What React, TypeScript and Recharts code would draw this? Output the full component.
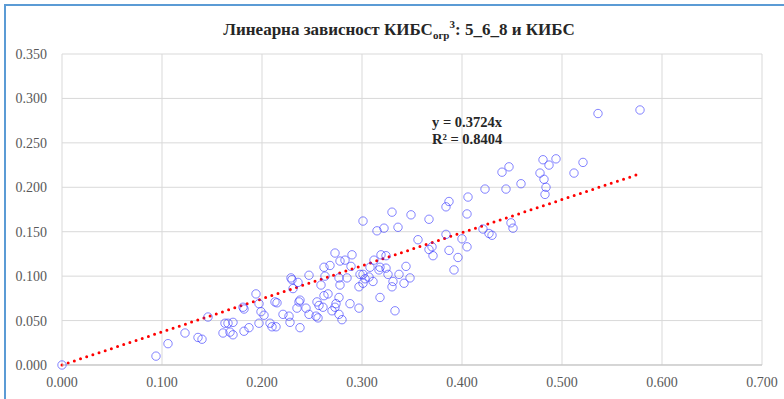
import React from "react";
import {
  ComposedChart,
  Scatter,
  XAxis,
  YAxis,
  CartesianGrid,
  ReferenceLine,
} from "recharts";

// КИБС огр 3 (x) против КИБС (y)
const xValues = [
  0.0, 0.094, 0.106, 0.123, 0.136, 0.14, 0.146, 0.161, 0.163, 0.166, 0.168,
  0.171, 0.171, 0.182, 0.187, 0.181, 0.182, 0.194, 0.197, 0.197, 0.199, 0.202,
  0.208, 0.213, 0.215, 0.214, 0.221, 0.227, 0.228, 0.235, 0.237, 0.238, 0.229,
  0.23, 0.231, 0.236, 0.244, 0.247, 0.254, 0.256, 0.257, 0.261, 0.262, 0.266,
  0.27, 0.273, 0.274, 0.277, 0.277, 0.28, 0.288, 0.297, 0.247, 0.259, 0.263,
  0.268, 0.262, 0.273, 0.278, 0.283, 0.289, 0.29, 0.278, 0.277, 0.285, 0.297,
  0.298, 0.301, 0.303, 0.307, 0.311, 0.308, 0.312, 0.318, 0.317, 0.319, 0.324,
  0.324, 0.326, 0.318, 0.33, 0.331, 0.333, 0.337, 0.342, 0.348, 0.344, 0.301,
  0.315, 0.322, 0.33, 0.336, 0.349, 0.367, 0.356, 0.367, 0.37, 0.371, 0.384,
  0.384, 0.387, 0.387, 0.396, 0.392, 0.4, 0.405, 0.405, 0.406, 0.421, 0.427,
  0.43, 0.423, 0.44, 0.447, 0.444, 0.449, 0.451, 0.459, 0.478, 0.481, 0.482,
  0.484, 0.483, 0.487, 0.494, 0.512, 0.521, 0.536, 0.578, 0.301, 0.21, 0.238,
  0.255,
];

const yValues = [
  0.0, 0.01, 0.024, 0.036, 0.031, 0.029, 0.054, 0.036, 0.047, 0.047, 0.037,
  0.048, 0.034, 0.038, 0.042, 0.065, 0.063, 0.08, 0.069, 0.047, 0.06, 0.056,
  0.047, 0.071, 0.07, 0.043, 0.057, 0.055, 0.048, 0.064, 0.071, 0.042, 0.098,
  0.096, 0.086, 0.093, 0.064, 0.057, 0.055, 0.053, 0.067, 0.065, 0.078, 0.08,
  0.061, 0.065, 0.069, 0.076, 0.057, 0.051, 0.069, 0.064, 0.101, 0.09, 0.1,
  0.112, 0.11, 0.126, 0.117, 0.118, 0.111, 0.124, 0.09, 0.098, 0.098, 0.088,
  0.102, 0.102, 0.097, 0.099, 0.094, 0.11, 0.118, 0.11, 0.107, 0.124, 0.123,
  0.109, 0.102, 0.076, 0.088, 0.094, 0.061, 0.102, 0.092, 0.098, 0.111, 0.162,
  0.151, 0.154, 0.172, 0.155, 0.169, 0.164, 0.141, 0.13, 0.133, 0.123, 0.147,
  0.178, 0.184, 0.129, 0.121, 0.107, 0.142, 0.133, 0.17, 0.189, 0.153, 0.148,
  0.146, 0.198, 0.217, 0.223, 0.198, 0.16, 0.154, 0.204, 0.216, 0.231, 0.209,
  0.2, 0.192, 0.225, 0.232, 0.216, 0.228, 0.283, 0.287, 0.092, 0.043, 0.073,
  0.071,
];

const slope = 0.3724;
const trendEndX = 0.578;

const xTicks = [0, 0.1, 0.2, 0.3, 0.4, 0.5, 0.6, 0.7];
const yTicks = [0, 0.05, 0.1, 0.15, 0.2, 0.25, 0.3, 0.35];

const points = xValues.map((x, i) => ({ x, y: yValues[i] }));

const FONT = "'Liberation Serif', 'DejaVu Serif', serif";
const tickStyle = { fill: "#595959", fontSize: 14, fontFamily: FONT };
const FRAME = "#5b9bd5";

export default function App() {
  return (
    <div
      style={{
        position: "absolute",
        left: 0,
        top: 0,
        width: 784,
        height: 399,
        overflow: "hidden",
        background: "#fff",
        fontFamily: FONT,
      }}
    >
      <svg
        width={784}
        height={399}
        style={{ position: "absolute", left: 0, top: 0 }}
      >
        <polyline
          points="5,399 5,5 784,5"
          fill="none"
          stroke={FRAME}
          strokeWidth={2}
        />
      </svg>
      <div style={{ position: "absolute", left: 0, top: 0 }}>
        <ComposedChart
          width={784}
          height={399}
          data={points}
          margin={{ top: 54, right: 22, bottom: 0, left: 0 }}
          style={{ fontFamily: FONT }}
        >
          <CartesianGrid stroke="#d9d9d9" strokeWidth={1} />
          <XAxis
            type="number"
            dataKey="x"
            domain={[0, 0.7]}
            ticks={xTicks}
            tickFormatter={(v: number) => v.toFixed(3)}
            tick={tickStyle}
            axisLine={{ stroke: "#bfbfbf" }}
            tickLine={false}
            height={34}
            tickMargin={6}
          />
          <YAxis
            type="number"
            dataKey="y"
            domain={[0, 0.35]}
            ticks={yTicks}
            tickFormatter={(v: number) => v.toFixed(3)}
            tick={tickStyle}
            axisLine={false}
            tickLine={false}
            width={62}
            tickMargin={9}
          />
          <ReferenceLine
            segment={[
              { x: 0, y: 0 },
              { x: trendEndX, y: slope * trendEndX },
            ]}
            stroke="#ff0000"
            strokeWidth={3}
            strokeDasharray="0 6.5"
            strokeLinecap="round"
            ifOverflow="visible"
          />
          <Scatter
            data={points}
            dataKey="y"
            isAnimationActive={false}
            shape={(props: any) => (
              <circle
                cx={props.cx}
                cy={props.cy}
                r={4.2}
                fill="none"
                stroke="#3333ff"
                strokeOpacity={0.6}
                strokeWidth={1}
              />
            )}
          />
        </ComposedChart>
      </div>
      <div
        style={{
          position: "absolute",
          top: 18,
          left: 0,
          width: 798,
          textAlign: "center",
          fontSize: 17,
          fontWeight: "bold",
          color: "#262626",
        }}
      >
        Линеарна зависност КИБС
        <sub style={{ fontSize: 11 }}>огр</sub>
        <sup style={{ fontSize: 11 }}>3</sup>: 5_6_8 и КИБС
      </div>
      <div
        style={{
          position: "absolute",
          left: 432,
          top: 114,
          fontSize: 14.5,
          fontWeight: "bold",
          lineHeight: "17px",
          color: "#262626",
        }}
      >
        y = 0.3724x
        <br />
        R² = 0.8404
      </div>
    </div>
  );
}
